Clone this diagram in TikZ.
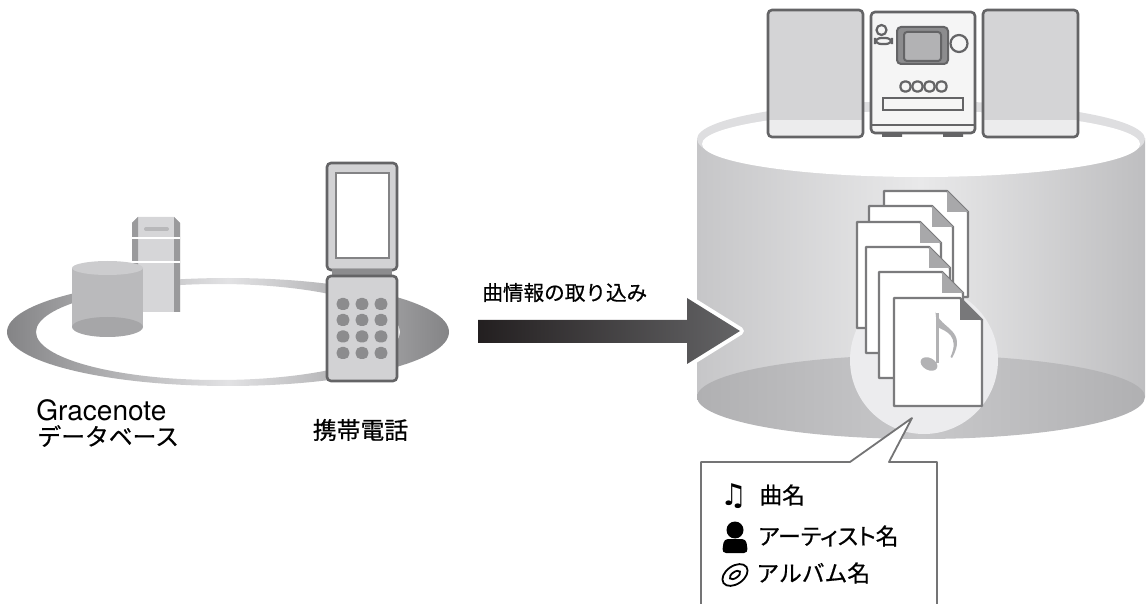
\documentclass[tikz,border=0pt]{standalone}
\usepackage{fontspec}
\usetikzlibrary{positioning,calc}
\newfontfamily\jpfont[FakeBold=0.6]{Noto Sans CJK JP}
\newfontfamily\jppfont[FakeBold=0.6, RawFeature=+palt]{Noto Sans CJK JP}
\newfontfamily\grfont{TeX Gyre Heros}
\newfontfamily\symfont{DejaVu Sans}
\definecolor{Ink}{RGB}{35,31,32}
\definecolor{Outline}{RGB}{100,100,102}
\definecolor{Shell}{RGB}{210,210,212}
\definecolor{KeyGray}{RGB}{140,140,142}
\definecolor{RingDark}{RGB}{132,132,134}
\definecolor{RingLight}{RGB}{226,226,228}
\definecolor{DrumBody}{RGB}{186,186,188}
\definecolor{DrumTop}{RGB}{204,204,206}
\definecolor{DrumBase}{RGB}{166,166,168}
\definecolor{TowerBody}{RGB}{214,214,216}
\definecolor{TowerEdge}{RGB}{154,154,156}
\definecolor{BaseSide}{RGB}{198,198,200}
\definecolor{BaseMid}{RGB}{233,233,234}
\definecolor{BaseFloor}{RGB}{176,176,178}
\definecolor{BaseFloorMid}{RGB}{200,200,202}
\definecolor{Rim}{RGB}{222,222,224}
\definecolor{Spot}{RGB}{236,236,238}
\definecolor{FoldGray}{RGB}{168,168,170}
\definecolor{FoldDark}{RGB}{120,120,122}
\definecolor{NoteGray}{RGB}{178,178,180}
\definecolor{SpeakerGray}{RGB}{212,212,214}
\definecolor{SpeakerLight}{RGB}{236,236,237}
\definecolor{ArrowMid}{RGB}{100,100,102}
\tikzset{
  jptext/.style={font=\jpfont\fontsize{11.9pt}{14pt}\selectfont, inner sep=0pt},
  tagtext/.style={font=\jpfont\fontsize{11.4pt}{14pt}\selectfont, inner sep=0pt, anchor=west},
  unit/.style={draw=Outline, line width=1.3pt, rounded corners=2pt},
  keybtn/.style={fill=KeyGray, rounded corners=2.5pt},
  page/.style={draw=Outline!85, line width=1.2pt, fill=white, line join=round},
}

\begin{document}
\begin{tikzpicture}[x=0.5pt, y=-0.5pt]
  \useasboundingbox (0,0) rectangle (1147,604);

  % network ring
  \shade[even odd rule, left color=RingDark, right color=RingDark, middle color=RingLight]
    (228,332) ellipse [x radius=221, y radius=54]
    (218,332) ellipse [x radius=182, y radius=48];

  % server tower
  \fill[TowerBody] (132,223) -- (138,217) -- (174,217) -- (180,223) -- (180,312) -- (132,312) -- cycle;
  \fill[TowerEdge] (132,223) -- (138,217) -- (138,312) -- (132,312) -- cycle;
  \fill[TowerEdge] (174,217) -- (180,223) -- (180,312) -- (174,312) -- cycle;
  \draw[white, line width=0.8pt] (132,238) -- (180,238) (132,262) -- (180,262);
  \draw[TowerEdge!70, line width=2pt, line cap=round] (146,229) -- (167,229);

  % database drum
  \fill[DrumBody] (72,268) rectangle (143,327);
  \fill[DrumBase] (107.5,327) ellipse [x radius=35.5, y radius=10];
  \fill[DrumTop] (107.5,268) ellipse [x radius=35.5, y radius=7];

  % flip phone
  \draw[unit, fill=Shell] (327,163) rectangle (397,270);
  \draw[Outline!80, line width=0.8pt, fill=white] (336,173) rectangle (389,258);
  \fill[KeyGray] (332,269) rectangle (392,277);
  \draw[unit, fill=Shell] (327,276) rectangle (397,381);
  \foreach \c in {343,362,381}
    \foreach \r in {304,320,336.5,353}
      \fill[keybtn] (\c-6.3,\r-6) rectangle (\c+6.3,\r+6);

  \node[anchor=west, inner sep=0pt, font=\grfont\fontsize{14pt}{16pt}\selectfont] (dbtitle) at (36,410) {Gracenote};
  \node[jptext, anchor=west] (dbname) at (37,436) {データベース};
  \node[jptext] (phonename) at (360.5,430) {携帯電話};

  % storage drum
  \shade[left color=BaseSide, right color=BaseSide!96!black, middle color=BaseMid] (697,139) rectangle (1145,397);
  \shade[left color=BaseFloor, right color=BaseFloor, middle color=BaseFloorMid] (921,397) ellipse [x radius=224, y radius=42];
  \fill[Rim] (921,139) ellipse [x radius=224, y radius=38];
  \fill[white] (921,144) ellipse [x radius=219, y radius=33];

  % mini stereo
  \foreach \sx in {768,983} {
    \fill[SpeakerGray, rounded corners=2pt] (\sx,10) rectangle (\sx+95,137);
    \fill[SpeakerLight] (\sx+1,120) rectangle (\sx+94,136);
    \draw[unit] (\sx,10) rectangle (\sx+95,137);
  }
  \fill[Outline] (882,131) rectangle (902,137) (943,131) rectangle (963,137);
  \draw[unit, fill=white!96!black] (871,12) rectangle (975,133);
  \draw[Outline, line width=1pt] (871,125) -- (975,125);
  \draw[Outline, line width=1.1pt] (881.5,30) circle (5);
  \draw[Outline, line width=1.1pt, rounded corners=3pt] (875,38) rectangle (892,44);
  \draw[Outline, line width=1pt, fill=KeyGray, rounded corners=2pt] (897,27) rectangle (948,64);
  \draw[Outline, line width=1pt, fill=NoteGray, rounded corners=1.5pt] (904,32) rectangle (941,61);
  \draw[Outline, line width=1.1pt] (959,43.5) circle (8.5);
  \foreach \bx in {905.5,917.5,929.5,941.5}
    \draw[Outline, line width=1.1pt, rounded corners=2pt] (\bx-5,81.5) rectangle (\bx+5,91.5);
  \draw[Outline, line width=1.1pt] (883,98) rectangle (963,110);

  % highlight behind the files
  \fill[Spot] (924,360) circle (74);

  % stacked music files
  \foreach \px/\py in {884/191,869/206,857/222,866/247,879/272} {
    \draw[page] (\px,\py) -- ++(63,0) -- ++(21,21) -- ++(0,85) -- ++(-84,0) -- cycle;
    \fill[FoldGray] (\px+63,\py) -- (\px+84,\py+21) -- (\px+63,\py+21) -- cycle;
  }
  \draw[page] (894,298) -- ++(66,0) -- ++(22,22) -- ++(0,86) -- ++(-88,0) -- cycle;
  \fill[FoldDark] (960,298) -- (982,320) -- (960,320) -- cycle;
  % note on the front file
  \fill[NoteGray, rotate around={-28:(929,364)}] (929,364) ellipse [x radius=9, y radius=6];
  \fill[NoteGray] (935.5,313) rectangle (938.5,363);
  \fill[NoteGray] (935.5,312) .. controls (941,329) and (968,330) .. (952,358)
    -- (950.5,357) .. controls (960,336) and (946,331) .. (937,327) -- cycle;

  % transfer arrow
  \coordinate (from) at (478,331);
  \coordinate (to) at (740,331);
  \draw[white, line width=4pt, line join=round]
    (687,298) -- (to) -- (687,364);
  \shade[left color=Ink, right color=ArrowMid]
    (from |- 0,320) -- (687,320) -- (687,298) -- (to) -- (687,364) -- (687,343) -- (from |- 0,343) -- cycle;
  \node[jptext, anchor=west, font=\jpfont\fontsize{10.3pt}{12pt}\selectfont] (import) at (482,292.5) {曲情報の取り込み};

  % balloon with the tag fields
  \coordinate (tip) at (912,418);
  \draw[Outline!90, line width=0.9pt, fill=white, line join=round]
    (701,612) -- (701,462) -- (850,462) -- (tip) -- (889,462) -- (937,462) -- (937,612);
  \node[inner sep=0pt, font=\symfont\fontsize{15pt}{15pt}\selectfont] (songicon) at (734,496) {♫};
  \node[tagtext] (song) at (759,495) {曲名};
  \fill (735,530) circle (8.5);
  \fill[rounded corners=2pt] (722,553) -- (724,539) -- (746,539) -- (748,553) -- cycle;
  \node[tagtext, font=\jppfont\fontsize{11.4pt}{14pt}\selectfont] (artist) at (758,536) {アーティスト名};
  \draw[line width=0.9pt, rotate around={35:(735,575)}] (735,575) ellipse [x radius=14, y radius=9];
  \draw[line width=0.9pt, rotate around={35:(735,575)}] (735,575) ellipse [x radius=6, y radius=3];
  \node[tagtext] (album) at (756,573) {アルバム名};
\end{tikzpicture}
\end{document}
